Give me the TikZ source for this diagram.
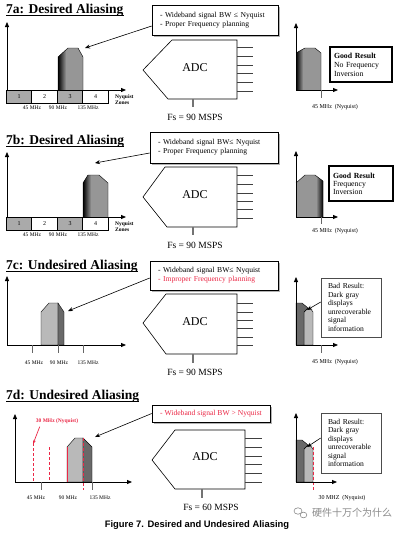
\documentclass[tikz,border=0pt]{standalone}
\usepackage{fontspec}
\setmainfont{Liberation Serif}
\newfontfamily\capfont{Liberation Sans}
\newfontfamily\cjk{Noto Sans CJK SC}
\usetikzlibrary{arrows.meta,shadows}
\definecolor{zg}{RGB}{170,170,170}
\definecolor{sig}{RGB}{150,150,150}
\definecolor{lsig}{RGB}{185,185,185}
\definecolor{dsig}{RGB}{105,105,105}
\definecolor{rd}{RGB}{235,40,70}
\definecolor{wm}{RGB}{140,140,140}
\begin{document}
\begin{tikzpicture}[x=1pt,y=-1pt,
  ttl/.style={anchor=base west,inner sep=0pt,font=\fontsize{13.5}{14}\selectfont\bfseries},
  ul/.style={line width=0.8pt},
  axis/.style={line width=0.8pt,-{Triangle[length=5pt,width=4pt]}},
  zone/.style={draw,line width=0.6pt,minimum width=25.5pt,minimum height=13pt,inner sep=0pt,font=\fontsize{6}{6}\selectfont},
  lbl/.style={inner sep=0pt,font=\fontsize{5.5}{6}\selectfont},
  nyl/.style={inner sep=0pt,font=\fontsize{6}{6}\selectfont},
  info/.style={draw,line width=0.6pt,fill=white,align=left,inner xsep=8pt,inner ysep=0pt,font=\fontsize{7.6}{9}\selectfont,general shadow={fill=gray!60,shadow xshift=1.5pt,shadow yshift=-1.5pt}},
  ptr/.style={line width=0.6pt,-{Stealth[length=5pt,width=4pt]}},
  adc/.style={draw,line width=0.6pt,fill=white},
  pin/.style={line width=0.8pt,black!75},
  clk/.style={line width=1.2pt,black!55},
  fs/.style={inner sep=0pt,font=\fontsize{9.5}{10}\selectfont},
  adct/.style={inner sep=0pt,font=\fontsize{12}{12}\selectfont},
  good/.style={draw,line width=2pt,align=left,inner xsep=4pt,inner ysep=0pt,font=\fontsize{7.8}{9}\selectfont},
  bad/.style={draw=black!70,line width=0.6pt,align=left,inner xsep=7pt,inner ysep=0pt,font=\fontsize{7.6}{8.5}\selectfont},
  tick/.style={line width=0.8pt,black!60},
  sigline/.style={line width=0.4pt},
  rdash/.style={rd,line width=0.7pt,dash pattern=on 3pt off 2pt},
]
\useasboundingbox (0,0) rectangle (400,533);
\fill[white] (0,0) rectangle (400,533);

% ================= 7a =================
\node[ttl] (t7a) at (6,13) {7a: Desired Aliasing};
\draw[ul] ([yshift=-2.5pt]t7a.base west) -- ([yshift=-2.5pt]t7a.base east);
\node[zone,fill=zg] (z1a) at (19,96.5) {1};
\node[zone] (z2a) at (44.5,96.5) {2};
\node[zone,fill=zg] (z3a) at (70,96.5) {3};
\node[zone] (z4a) at (95.5,96.5) {4};
\fill[sig] (58,90) -- (58,57) -- (68,48) -- (78,48) -- (83,57) -- (83,90) -- cycle;
\begin{scope}
\clip (58,90) -- (58,57) -- (68,48) -- (78,48) -- (83,57) -- (83,90) -- cycle;
\shade[left color=black,right color=sig] (58,40) rectangle (66,90);
\end{scope}
\draw[sigline] (58,90) -- (58,57) -- (68,48) -- (78,48) -- (83,57) -- (83,90);
\draw[axis] (7,90) -- (7,22);
\draw[axis] (7,90) -- (126,90);
\node[lbl,align=left,anchor=west,font=\fontsize{5.5}{5.5}\selectfont\bfseries] (nz7a) at (115,99.5) {Nyquist\\Zones};
\node[lbl] (f1a) at (32,108) {45 MHz};
\node[lbl] (f2a) at (58,108) {90 MHz};
\node[lbl] (f3a) at (88,108) {135 MHz};
\node[info,minimum height=30pt,text width=110pt] (b7a) at (215,20) {- Wideband signal BW ≤ Nyquist\\- Proper Frequency planning};
\coordinate (a7a) at (85,48);
\draw[ptr] ([yshift=-6pt]b7a.west) -- (a7a);
\draw[adc] (172,40) -- (237,40) -- (237,99) -- (168,99) -- (143,70) -- cycle;
\node[adct] (adc7a) at (195,68) {ADC};
\foreach \yy in {47,56,65,73,82,91} \draw[pin] (237,\yy) -- (253,\yy);
\draw[clk] (193,99) -- (193,107);
\node[fs] (fs7a) at (195,117) {Fs = 90 MSPS};
% right plot
\fill[sig] (296,90) -- (296,53) -- (305,48) -- (315,48) -- (321,53) -- (321,90) -- cycle;
\begin{scope}
\clip (296,90) -- (296,53) -- (305,48) -- (315,48) -- (321,53) -- (321,90) -- cycle;
\shade[left color=black,right color=sig] (296,40) rectangle (303,90);
\end{scope}
\draw[sigline] (296,53) -- (305,48) -- (315,48) -- (321,53) -- (321,90);
\draw[axis] (296,90) -- (296,23);
\draw[axis] (296,90) -- (338,90);
\draw[tick] (321,90) -- (321,98);
\node[nyl] (ny7a) at (335,107) {45 MHz\ \ (Nyquist)};
\node[good,minimum height=35pt,text width=54pt] (g7a) at (361,64.5) {\textbf{Good Result}\\No Frequency\\Inversion};

% ================= 7b =================
\node[ttl] (t7b) at (6,144) {7b: Desired Aliasing};
\draw[ul] ([yshift=-2.5pt]t7b.base west) -- ([yshift=-2.5pt]t7b.base east);
\node[zone,fill=zg] (z1b) at (19,223.5) {1};
\node[zone] (z2b) at (44.5,223.5) {2};
\node[zone,fill=zg] (z3b) at (70,223.5) {3};
\node[zone] (z4b) at (95.5,223.5) {4};
\fill[sig] (83,217) -- (83,183) -- (88,175) -- (99,175) -- (108,183) -- (108,217) -- cycle;
\begin{scope}
\clip (83,217) -- (83,183) -- (88,175) -- (99,175) -- (108,183) -- (108,217) -- cycle;
\shade[left color=black,right color=sig] (83,170) rectangle (91,217);
\end{scope}
\draw[sigline] (83,217) -- (83,183) -- (88,175) -- (99,175) -- (108,183) -- (108,217);
\draw[axis] (7,217) -- (7,152);
\draw[axis] (7,217) -- (126,217);
\node[lbl,align=left,anchor=west,font=\fontsize{5.5}{5.5}\selectfont\bfseries] (nz7b) at (115,226.5) {Nyquist\\Zones};
\node[lbl] (f1b) at (32,235) {45 MHz};
\node[lbl] (f2b) at (58,235) {90 MHz};
\node[lbl] (f3b) at (88,235) {135 MHz};
\node[info,minimum height=31pt,text width=112pt] (b7b) at (214,147.5) {- Wideband signal BW≤ Nyquist\\- Proper Frequency planning};
\coordinate (a7b) at (95,163);
\draw[ptr] ([yshift=-5.5pt]b7b.west) -- (a7b);
\draw[adc] (165,167) -- (237,167) -- (237,227) -- (167,227) -- (143,197) -- cycle;
\node[adct] (adc7b) at (195,195) {ADC};
\foreach \yy in {175,184,193,201,209,218} \draw[pin] (237,\yy) -- (253,\yy);
\draw[clk] (193,227) -- (193,235);
\node[fs] (fs7b) at (195,245) {Fs = 90 MSPS};
% right plot
\fill[sig] (296,217) -- (296,183) -- (305,175) -- (315,175) -- (323,181) -- (323,217) -- cycle;
\begin{scope}
\clip (296,217) -- (296,183) -- (305,175) -- (315,175) -- (323,181) -- (323,217) -- cycle;
\shade[left color=sig,right color=black] (316,170) rectangle (323,217);
\end{scope}
\draw[sigline] (296,183) -- (305,175) -- (315,175) -- (323,181) -- (323,217);
\draw[axis] (296,217) -- (296,151);
\draw[axis] (296,217) -- (338,217);
\draw[tick] (321,217) -- (321,224);
\node[nyl] (ny7b) at (335,231) {45 MHz\ \ (Nyquist)};
\node[good,minimum height=35pt,text width=56pt,font=\fontsize{7.8}{8}\selectfont] (g7b) at (361,183.5) {\textbf{Good Result}\\Frequency\\Inversion};

% ================= 7c =================
\node[ttl] (t7c) at (6,269) {7c: Undesired Aliasing};
\draw[ul] ([yshift=-2.5pt]t7c.base west) -- ([yshift=-2.5pt]t7c.base east);
\filldraw[sigline,fill=lsig] (41,345) -- (41,312) -- (49,303) -- (58,303) -- (58,345) -- cycle;
\filldraw[sigline,fill=dsig] (58,345) -- (58,303) -- (64,312) -- (64,345) -- cycle;
\draw[axis] (7,345) -- (7,276);
\draw[axis] (7,345) -- (126,345);
\foreach \xx in {32,58,83} \draw[tick] (\xx,345) -- (\xx,353);
\node[lbl] (f1c) at (34,363) {45 MHz};
\node[lbl] (f2c) at (59,363) {90 MHz};
\node[lbl] (f3c) at (88,363) {135 MHz};
\node[info,minimum height=29pt,text width=112pt] (b7c) at (214,275.5) {- Wideband signal BW≤ Nyquist\\\textcolor{rd}{- Improper Frequency planning}};
\coordinate (a7c) at (68,311);
\draw[ptr] ([yshift=-2.5pt]b7c.west) -- (a7c);
\draw[adc] (166,294) -- (237,294) -- (237,354) -- (166,354) -- (143,323) -- cycle;
\node[adct] (adc7c) at (195,322) {ADC};
\foreach \yy in {303,312,320,328,337,345} \draw[pin] (237,\yy) -- (253,\yy);
\draw[clk] (193,354) -- (193,363);
\node[fs] (fs7c) at (195,372) {Fs = 90 MSPS};
% right plot
\filldraw[sigline,fill=lsig] (304,345) -- (304,312) -- (308,308) -- (310,308) -- (313,312) -- (313,345) -- cycle;
\filldraw[sigline,fill=dsig] (296,345) -- (296,303) -- (302,303) -- (308,308) -- (304,312) -- (304,345) -- cycle;
\draw[axis] (296,345) -- (296,277);
\draw[axis] (296,345) -- (338,345);
\draw[tick] (321,345) -- (321,353);
\node[nyl] (ny7c) at (335,362) {45 MHz\ \ (Nyquist)};
\node[bad,minimum width=60pt,minimum height=59pt,text width=46pt] (r7c) at (351,307.5) {Bad Result:\\Dark gray\\displays\\unrecoverable\\signal\\information};
\coordinate (a7cr) at (307,310);
\draw[ptr] ([yshift=5.5pt]r7c.west) -- (a7cr);

% ================= 7d =================
\node[ttl] (t7d) at (6,399) {7d: Undesired Aliasing};
\draw[ul] ([yshift=-2.5pt]t7d.base west) -- ([yshift=-2.5pt]t7d.base east);
\filldraw[sigline,fill=lsig] (67,482) -- (67,447) -- (75,438) -- (83,438) -- (83,482) -- cycle;
\filldraw[sigline,fill=dsig] (83,482) -- (83,438) -- (92,447) -- (92,482) -- cycle;
\draw[rd,line width=0.7pt] (67,447) -- (67,482);
\draw[rdash] (33,443) -- (33,482);
\draw[rdash] (49,447) -- (49,482);
\draw[rdash] (83,438) -- (83,490);
\draw[axis] (15,482) -- (15,414);
\draw[axis] (15,482) -- (132,482);
\foreach \xx in {41,92} \draw[tick] (\xx,482) -- (\xx,490);
\node[lbl] (f1d) at (36,498) {45 MHz};
\node[lbl] (f2d) at (68,498) {90 MHz};
\node[lbl] (f3d) at (100,498) {135 MHz};
\node[inner sep=0pt,font=\fontsize{5.5}{6}\selectfont\bfseries,text=rd] (r30) at (57,421) {30 MHz (Nyquist)};
\coordinate (a30) at (33,444);
\draw[rd,line width=0.7pt,-{Stealth[length=4pt,width=3pt]}] ([xshift=4pt,yshift=-3pt]r30.south west) -- (a30);
\node[info,minimum height=17pt,minimum width=118pt,inner xsep=4pt] (b7d) at (211,413.5) {\textcolor{rd}{- Wideband signal BW > Nyquist}};
\coordinate (a7d) at (95,437);
\draw[ptr] (b7d.west) -- (a7d);
\draw[adc] (175,430) -- (245,430) -- (245,489) -- (175,489) -- (152,460) -- cycle;
\node[adct] (adc7d) at (205,457) {ADC};
\foreach \yy in {438,447,456,464,473,482} \draw[pin] (245,\yy) -- (262,\yy);
\draw[clk] (202,489) -- (202,498);
\node[fs] (fs7d) at (211,507) {Fs = 60 MSPS};
% right plot
\filldraw[sigline,fill=lsig] (304,482) -- (304,449) -- (308,445) -- (310,445) -- (313,449) -- (313,482) -- cycle;
\filldraw[sigline,fill=dsig] (296,482) -- (296,440) -- (302,440) -- (308,445) -- (304,449) -- (304,482) -- cycle;
\draw[rdash] (313,447) -- (313,491);
\draw[axis] (296,482) -- (296,413);
\draw[axis] (296,482) -- (337,482);
\node[nyl] (ny7d) at (342,498) {30 MHZ\ \ (Nyquist)};
\node[bad,minimum width=60pt,minimum height=60pt,text width=46pt] (r7d) at (351,443) {Bad Result:\\Dark gray\\displays\\unrecoverable\\signal\\information};
\coordinate (a7dr) at (307,447);
\draw[ptr] ([yshift=5pt]r7d.west) -- (a7dr);

% ================= caption & watermark =================
\node[anchor=base,inner sep=0pt,font=\capfont\fontsize{9.4}{10}\selectfont\bfseries] (cap) at (197,527) {Figure 7. Desired and Undesired Aliasing};
\draw[wm,line width=0.6pt] (298,511) ellipse (4pt and 3.2pt);
\draw[wm,line width=0.6pt] (303.5,515) ellipse (3.4pt and 2.8pt);
\node[inner sep=0pt,text=wm,font=\cjk\fontsize{10}{10}\selectfont] (wmk) at (352,513) {硬件十万个为什么};
\end{tikzpicture}
\end{document}
